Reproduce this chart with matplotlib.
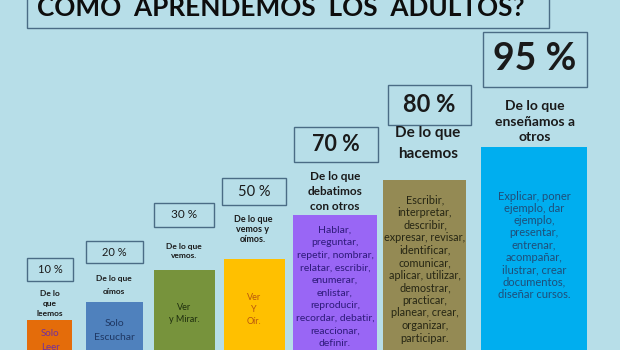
import matplotlib
matplotlib.use("Agg")
import matplotlib.pyplot as plt
from matplotlib.patches import Rectangle

# ---- data ----
title = "COMO  APRENDEMOS  LOS  ADULTOS?"
percent_labels = ["10 %", "20 %", "30 %", "50 %", "70 %", "80 %", "95 %"]
bar_heights = [30, 48, 80, 91, 135, 170, 203]   # visible bar height (px from bottom edge)
descriptions = [
    "De lo\nque\nleemos",
    "De lo que\noímos",
    "De lo que\nvemos.",
    "De lo que\nvemos y\noímos.",
    "De lo que\ndebatimos\ncon otros",
    "De lo que\nhacemos",
    "De lo que\nenseñamos a\notros",
]
actions = [
    "Solo\nLeer",
    "Solo\nEscuchar",
    "Ver\ny Mirar.",
    "Ver\nY\nOír.",
    "Hablar,\npreguntar,\nrepetir, nombrar,\nrelatar, escribir,\nenumerar,\nenlistar,\nreproducir,\nrecordar, debatir,\nreaccionar,\ndefinir.",
    "Escribir,\ninterpretar,\ndescribir,\nexpresar, revisar,\nidentificar,\ncomunicar,\naplicar, utilizar,\ndemostrar,\npracticar,\nplanear, crear,\norganizar,\nparticipar.",
    "Explicar, poner\nejemplo, dar\nejemplo,\npresentar,\nentrenar,\nacompañar,\nilustrar, crear\ndocumentos,\ndiseñar cursos.",
]

# ---- layout / style ----
W, H = 620, 350
bg = "#B7DEE8"
edge = "#4A6C85"
bar_colors = ["#E46C0A", "#4F81BD", "#77933C", "#FFC000", "#9966F5", "#948A54", "#00AEEF"]
action_colors = ["#7030A0", "#1F3864", "#1E2E0E", "#B8560F", "#2E1A7A", "#262614", "#1F4E79"]
bar_x0 = [27, 86, 154, 224, 293, 383, 481]
bar_w = [45, 57, 61, 61, 84, 83, 106]
box_geo = [(27, 73, 258, 281), (86, 143, 241, 263), (154, 214, 203, 227),
           (222, 286, 178, 205), (294, 378, 127, 162), (388, 471, 85, 125),
           (483, 587, 32, 87)]
pct_size = [8, 8, 8.5, 10.5, 15.5, 17, 27]
pct_bold = [False, False, False, False, True, True, True]
# (x, first line centre y, last line centre y) in picture pixels
desc_pos = [(50, 293, 314), (114, 279, 292), (184, 246, 255), (253, 220, 240),
            (335, 177, 206), (428, 133, 154), (535, 106, 137)]
desc_size = [6, 6, 6, 6.5, 8.5, 11, 10]
act_pos = [(50, 333, 347), (114, 324, 337), (184, 308, 320), (254, 297, 321),
           (335, 230, 344), (425, 200, 338), (534, 196, 294)]
act_size = [7, 7.5, 6.5, 6.5, 7.5, 7.8, 8]

plt.rcParams['font.family'] = ['Lato', 'DejaVu Sans']

fig = plt.figure(figsize=(6.2, 3.5), dpi=100)
fig.patch.set_facecolor(bg)
ax = fig.add_axes([0, 0, 1, 1])
ax.set_xlim(0, W)
ax.set_ylim(0, H)
ax.axis("off")
ax.set_facecolor(bg)
renderer = fig.canvas.get_renderer()

def Y(py):
    return H - py

def block(x, y0, y1, s, **kw):
    """Multi-line text whose first/last line centres sit at y0/y1 (pixels)."""
    n = s.count("\n") + 1
    t = ax.text(x, Y((y0 + y1) / 2), s, ha="center", va="center", **kw)
    if n > 1:
        probe = ax.text(0, 0, "lp", **kw)
        hs = probe.get_window_extent(renderer).height
        probe.remove()
        t.set_linespacing(1.0)
        h1 = t.get_window_extent(renderer).height
        t.set_linespacing(2.0)
        h2 = t.get_window_extent(renderer).height
        a = (h2 - h1) / (n - 1)
        p1 = (h1 - hs) / (n - 1)
        d = p1 - a
        target = (y1 - y0) / (n - 1)
        t.set_linespacing(max(0.5, (target - d) / a))
    return t

# title box (top cut off, as in the original slide)
ax.add_patch(Rectangle((27, Y(28)), 522, 60, facecolor=bg, edgecolor=edge, lw=1.0))
ax.text(281, Y(16), title, ha="center", va="baseline", fontsize=18.8,
        fontweight="bold", color="#0D0D0D")

# bars
centers = [x + w / 2 for x, w in zip(bar_x0, bar_w)]
ax.bar(centers, [h + 10 for h in bar_heights], width=bar_w, bottom=-10,
       color=bar_colors, edgecolor="none")

for i in range(len(percent_labels)):
    x0, x1, t, b = box_geo[i]
    ax.add_patch(Rectangle((x0, Y(b)), x1 - x0, b - t, facecolor=bg,
                           edgecolor=edge, lw=1.0))
    ax.text((x0 + x1) / 2, Y((t + b) / 2), percent_labels[i], ha="center",
            va="center", fontsize=pct_size[i],
            fontweight="bold" if pct_bold[i] else "normal", color="#1A1A1A")
    dx, dy0, dy1 = desc_pos[i]
    block(dx, dy0, dy1, descriptions[i], fontsize=desc_size[i],
          fontweight="bold", color="#1A1A1A")
    ax_, ay0, ay1 = act_pos[i]
    block(ax_, ay0, ay1, actions[i], fontsize=act_size[i], color=action_colors[i])

fig.savefig("out.png", dpi=100, facecolor=bg)
